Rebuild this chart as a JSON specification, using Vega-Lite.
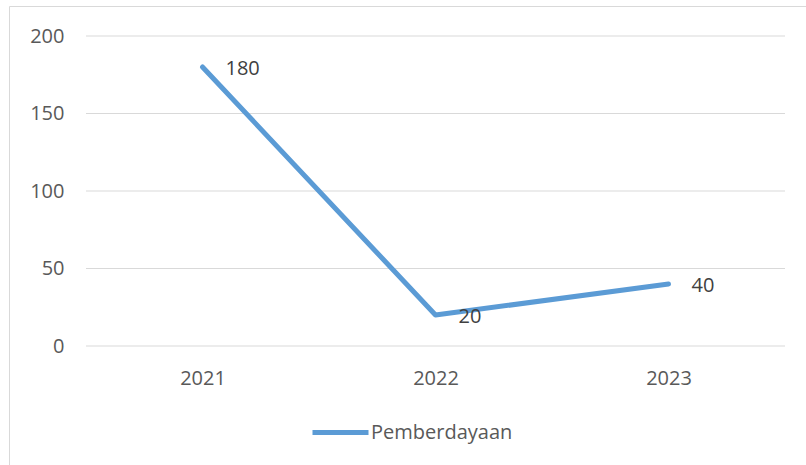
{
  "$schema": "https://vega.github.io/schema/vega-lite/v6.json",
  "width": 797,
  "height": 459,
  "autosize": {"type": "none"},
  "padding": {"left": 9, "top": 6, "right": 0, "bottom": 0},
  "background": "white",
  "config": {
    "font": "Open Sans",
    "view": {"stroke": "#d9d9d9", "strokeWidth": 1, "fill": "white"},
    "axisY": {"domain": false, "ticks": false, "tickSize": 0, "grid": false, "labelPadding": -55, "labelFontSize": 20, "labelColor": "#595959", "labelFont": "Open Sans"},
    "axisX": {"domain": false, "ticks": false, "tickSize": 0, "grid": false, "labelPadding": -87, "labelBaseline": "middle", "labelFontSize": 20, "labelColor": "#595959", "labelFont": "Open Sans", "labelFlush": false}
  },
  "datasets": {
    "main": [
      {"year": 2021, "value": 180, "series": "Pemberdayaan"},
      {"year": 2022, "value": 20, "series": "Pemberdayaan"},
      {"year": 2023, "value": 40, "series": "Pemberdayaan"}
    ],
    "grid": [{"tick": 0}, {"tick": 50}, {"tick": 100}, {"tick": 150}, {"tick": 200}]
  },
  "layer": [
    {
      "data": {"name": "grid"},
      "mark": {"type": "rule", "color": "#d9d9d9", "strokeWidth": 1},
      "encoding": {
        "y": {"field": "tick", "type": "quantitative", "scale": {"domain": [0, 200], "range": [340, 30], "nice": false, "zero": false}, "axis": {"title": null, "values": [0, 50, 100, 150, 200]}},
        "x": {"datum": 2020.5, "type": "quantitative", "scale": {"domain": [2020.5, 2023.5], "range": [77, 776], "nice": false, "zero": false}, "axis": {"title": null, "values": [2021, 2022, 2023], "format": "d"}},
        "x2": {"datum": 2023.5}
      }
    },
    {
      "data": {"name": "main"},
      "mark": {"type": "line", "strokeWidth": 5, "strokeCap": "round", "strokeJoin": "round"},
      "encoding": {
        "x": {"field": "year", "type": "quantitative", "axis": {"title": null, "values": [2021, 2022, 2023], "format": "d"}},
        "y": {"field": "value", "type": "quantitative", "axis": {"title": null, "values": [0, 50, 100, 150, 200]}},
        "color": {"field": "series", "type": "nominal", "scale": {"range": ["#5b9bd5"]}, "legend": {"orient": "none", "legendX": 301, "legendY": 396, "title": null, "symbolType": "stroke", "symbolSize": 3136, "symbolStrokeWidth": 5, "labelFontSize": 20, "labelColor": "#595959", "labelFont": "Open Sans", "labelOffset": 0, "padding": 0}}
      }
    },
    {
      "data": {"name": "main"},
      "mark": {"type": "text", "align": "left", "baseline": "middle", "dx": 23, "dy": 2, "fontSize": 20, "color": "#404040", "font": "Open Sans"},
      "encoding": {
        "x": {"field": "year", "type": "quantitative"},
        "y": {"field": "value", "type": "quantitative"},
        "text": {"field": "value", "type": "quantitative"}
      }
    }
  ]
}
